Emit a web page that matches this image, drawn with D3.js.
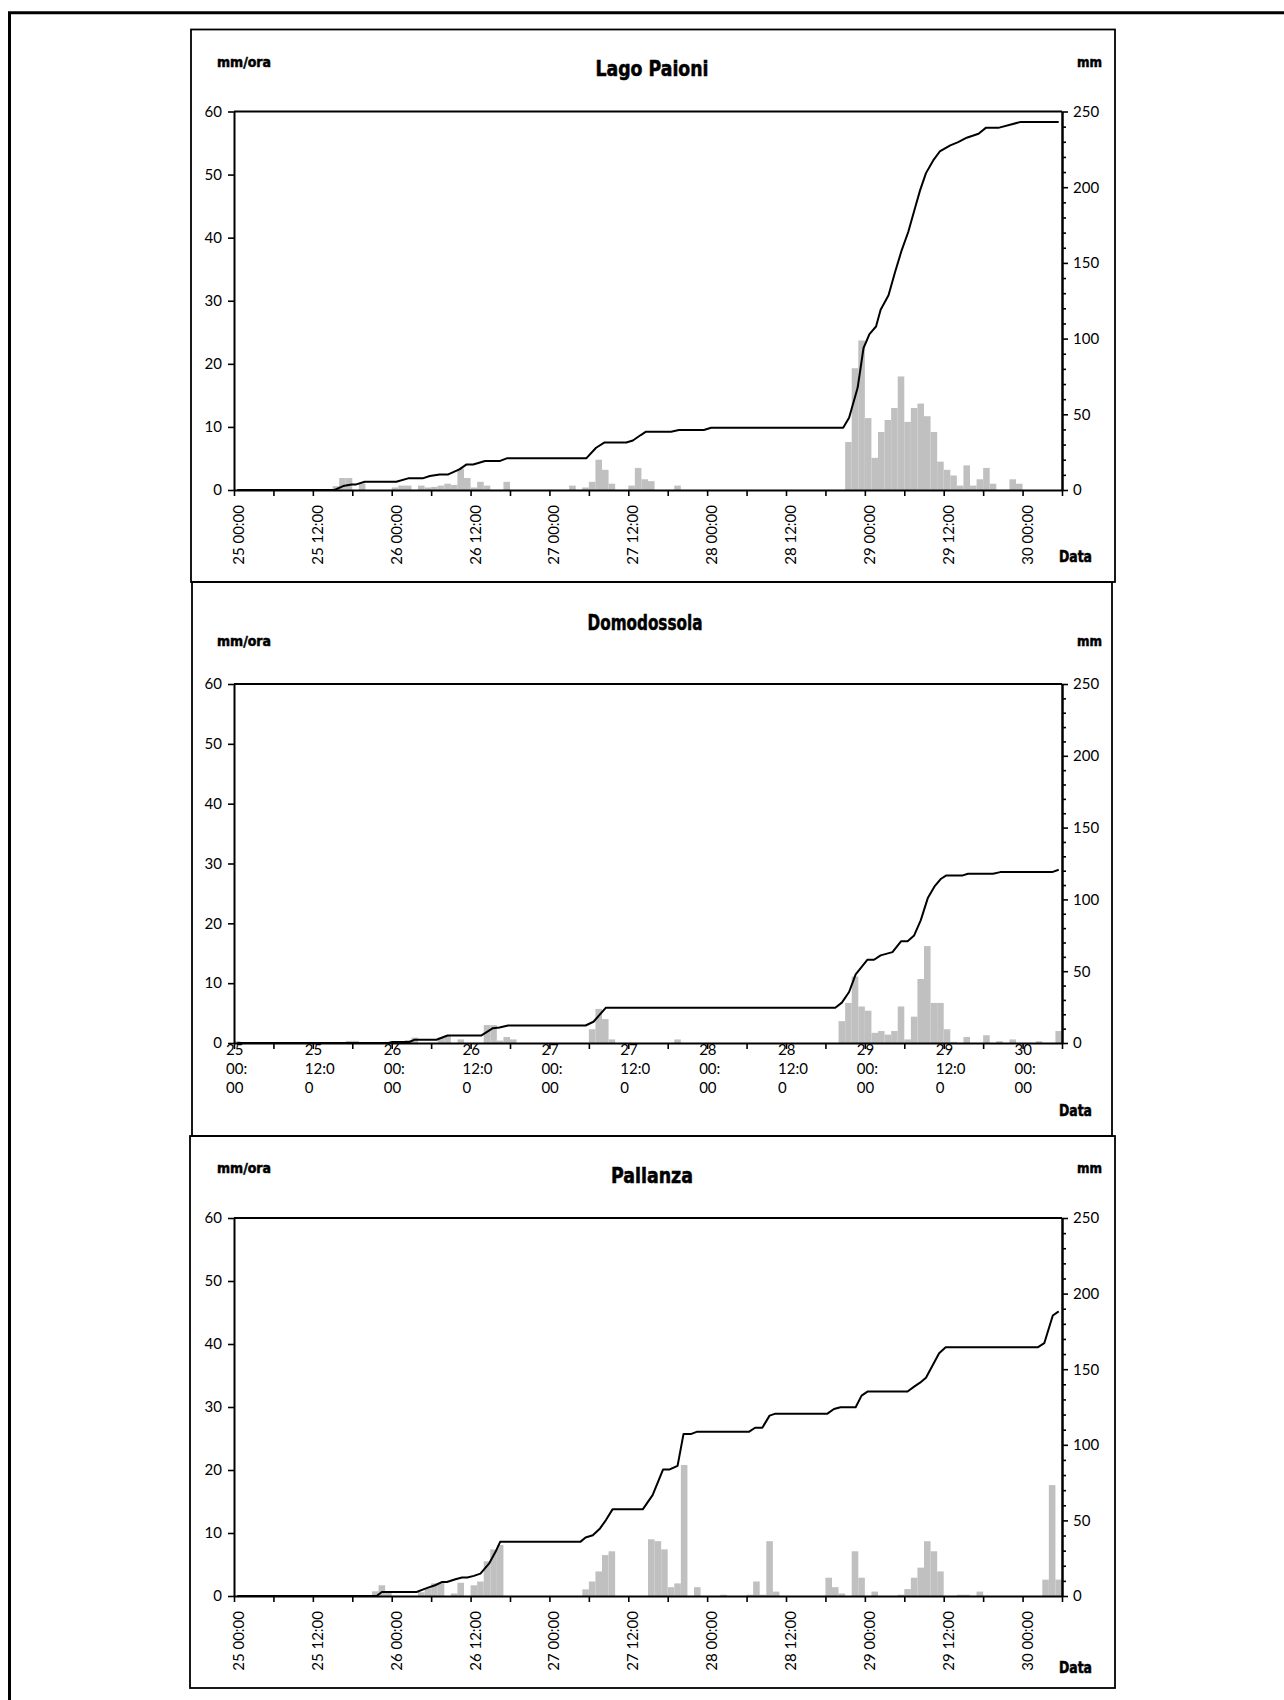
<!DOCTYPE html>
<html><head><meta charset="utf-8">
<script src="https://cdn.jsdelivr.net/npm/d3@7"></script>
<style>body{margin:0;background:#fff} svg{display:block}</style>
</head><body>
<svg id="c" width="1284" height="1700"></svg>
<script>
// ---------- DATA (hour index from 25 00:00, value) ----------
const paioniBars = [[15,0.6],[16,1.9],[17,1.9],[19,1.0],[24,0.4],[25,0.7],[26,0.7],[28,0.7],[29,0.4],[30,0.5],[31,0.7],[32,1.0],[33,0.8],[34,3.4],[35,1.9],[36,0.4],[37,1.3],[38,0.7],[41,1.3],[51,0.7],[53,0.4],[54,1.3],[55,4.8],[56,3.2],[57,1.0],[60,0.7],[61,3.5],[62,1.7],[63,1.4],[67,0.7],[93,7.6],[94,19.3],[95,23.7],[96,11.4],[97,5.1],[98,9.2],[99,11.1],[100,13.0],[101,18.0],[102,10.8],[103,13.0],[104,13.7],[105,11.7],[106,9.2],[107,4.5],[108,3.2],[109,2.3],[110,0.7],[111,3.9],[112,0.7],[113,1.7],[114,3.5],[115,1.0],[118,1.7],[119,1.0]];
const paioniCum = [[0.5,0],[15.3,0],[16.6,2.6],[17.9,3.7],[18.6,3.7],[19.9,5.5],[24.7,5.5],[26.5,7.7],[28.7,7.7],[29.8,9.2],[31.3,10.3],[32.6,10.3],[34.3,13.6],[35.4,16.9],[36.4,16.9],[38.2,19.1],[40.4,19.1],[41.5,20.9],[53.6,20.9],[55.1,27.9],[56.4,31.4],[59.7,31.4],[60.7,32.7],[61.9,36.3],[62.7,38.5],[66.5,38.5],[67.7,39.6],[71.5,39.6],[72.6,41.1],[92.7,41.1],[93.6,47.7],[94.9,67.5],[95.8,93.8],[96.7,103],[97.7,108],[98.4,119],[99.6,128.6],[100.6,144],[101.6,158.3],[102.6,170.4],[103.6,185.8],[104.4,197.9],[105.3,209.3],[106.4,217.7],[107.4,223.6],[109,227.6],[110.2,229.8],[111.5,232.7],[113.3,235.3],[114.4,239.2],[116.3,239.2],[119.6,243],[125.5,243]];

const domoBars = [[0,0.3],[17,0.35],[18,0.35],[23,0.2],[26,0.5],[27,0.9],[31,0.9],[32,1.25],[34,0.6],[38,3.0],[39,3.0],[40,0.4],[41,1.0],[42,0.6],[54,2.3],[55,5.7],[56,4.0],[57,0.6],[67,0.6],[92,3.65],[93,6.7],[94,11.1],[95,6.1],[96,5.4],[97,1.7],[98,2.0],[99,1.4],[100,2.0],[101,6.1],[102,0.6],[103,4.4],[104,10.7],[105,16.2],[106,6.7],[107,6.7],[108,2.3],[109,0.2],[111,1.0],[114,1.3],[116,0.3],[118,0.6],[122,0.3],[125,2.0]];
const domoCum = [[0.5,0],[23.5,0],[24.1,0.7],[26.7,0.7],[27.5,2.3],[30.8,2.3],[32.5,5.2],[37.6,5.2],[39.4,10.3],[40.4,10.8],[41.7,12.2],[53.5,12.2],[54.7,14.8],[56.6,24.6],[91.5,24.6],[92.5,28.1],[93.6,35.5],[94.6,47.8],[96.4,58],[97.4,58],[98.4,61],[100.2,63.3],[101.5,70.8],[102.5,70.8],[103.5,74.9],[104.5,85.4],[105.6,101.2],[106.6,109],[107.6,114.4],[108.4,116.7],[110.9,116.7],[111.7,117.9],[115.5,117.9],[116.6,119],[124.5,119],[125.5,120.6]];

const pallanzaBars = [[21,0.75],[22,1.7],[23,0.5],[28,0.6],[29,1.2],[30,2.0],[31,2.1],[33,0.4],[34,2.1],[36,1.7],[37,2.3],[38,5.5],[39,7.4],[40,8.1],[53,1.05],[54,2.3],[55,3.9],[56,6.5],[57,7.1],[63,9.0],[64,8.7],[65,7.4],[66,1.4],[67,2.0],[68,20.8],[70,1.4],[74,0.2],[78,0.2],[79,2.3],[80,0.2],[81,8.7],[82,0.7],[90,2.9],[91,1.4],[92,0.4],[94,7.1],[95,2.9],[97,0.7],[101,0.2],[102,1.1],[103,2.9],[104,4.5],[105,8.7],[106,7.1],[107,3.9],[110,0.2],[111,0.2],[113,0.7],[123,2.6],[124,17.6],[125,2.6]];
const pallanzaCum = [[0.5,0],[21.7,0],[22.5,2.65],[27.8,2.65],[29.1,4.9],[30.6,7.1],[31.7,9.3],[32.4,9.3],[33.7,11.1],[34.7,12.2],[35.5,12.2],[36.5,13.3],[37.5,14.8],[38.8,21.4],[39.8,29.2],[40.5,35.8],[52.7,35.8],[53.5,38.7],[54.6,40.2],[55.7,44.7],[56.6,50.2],[57.6,57.3],[62.2,57.3],[63.7,66.7],[65.3,83.7],[66.3,83.7],[67.5,86.1],[68.4,107.1],[69.5,107.1],[70.5,108.7],[78.4,108.7],[79.3,111.3],[80.4,111.3],[81.5,119.3],[82.4,120.6],[90.3,120.6],[91.3,123.7],[92.3,124.8],[94.6,124.8],[95.5,132.5],[96.4,135.2],[102.5,135.2],[103.5,138.5],[104.4,141.1],[105.3,144.4],[106.3,152.4],[107.3,160.6],[108.3,164.5],[122.3,164.5],[123.3,167.2],[124.6,185.5],[125.5,188.2]];

const timeLabels = ["25 00:00","25 12:00","26 00:00","26 12:00","27 00:00","27 12:00","28 00:00","28 12:00","29 00:00","29 12:00","30 00:00"];
const wrappedLabels = [["25","00:","00"],["25","12:0","0"],["26","00:","00"],["26","12:0","0"],["27","00:","00"],["27","12:0","0"],["28","00:","00"],["28","12:0","0"],["29","00:","00"],["29","12:0","0"],["30","00:","00"]];
const leftTicks = [0,10,20,30,40,50,60];
const rightTicks = [0,50,100,150,200,250];
const rightMinor = [10,20,30,40,60,70,80,90,110,120,130,140,160,170,180,190,210,220,230,240];
const xTicks = [0,6,12,18,24,30,36,42,48,54,60,66,72,78,84,90,96,102,108,114,120,126];
const labelHours = [0,12,24,36,48,60,72,84,96,108,120];
const stations = ["Lago Paioni","Domodossola","Pallanza"];

// ---------- LAYOUT ----------
const TICKFONT = "Lato, 'DejaVu Sans', sans-serif";
const HEAVY = "'Liberation Sans Narrow', 'DejaVu Sans Condensed', sans-serif";
const panels = [
  {title:stations[0], bars:paioniBars, cum:paioniCum, fx0:191, fy0:29.5, fx1:1115, fy1:582,
   y0:111.5, y1:490, titleY:69, titleX:652, titleW:113, unitY:62, dataY:557, wrapped:false},
  {title:stations[1], bars:domoBars, cum:domoCum, fx0:192, fy0:582, fx1:1112, fy1:1136,
   y0:684, y1:1043, titleY:623, titleX:645, titleW:115, unitY:641, dataY:1111, wrapped:true},
  {title:stations[2], bars:pallanzaBars, cum:pallanzaCum, fx0:190, fy0:1136, fx1:1115, fy1:1688,
   y0:1218, y1:1596, titleY:1176, titleX:652, titleW:82, unitY:1168, dataY:1668, wrapped:false}
];
const X0 = 234, X1 = 1062;

const svg = d3.select("#c");
svg.append("rect").attr("width",1284).attr("height",1700).attr("fill","#fff");
// outer border
svg.append("path").attr("d","M9.5,1700 L9.5,12.7 L1284,12.7")
  .attr("fill","none").attr("stroke","#000").attr("stroke-width",3);

function styleAxis(g){
  g.select(".domain").attr("stroke","#000").attr("stroke-width",2);
  g.selectAll(".tick line").attr("stroke","#000").attr("stroke-width",1.6);
  g.selectAll("text").attr("font-family",TICKFONT).attr("font-size",15).attr("fill","#000");
}
function heavy(sel, size, len){
  sel.attr("font-family",HEAVY).attr("font-weight","bold").attr("font-size",size)
    .attr("stroke","#000").attr("stroke-width",0.5).attr("fill","#000")
    .attr("textLength",len).attr("lengthAdjust","spacingAndGlyphs")
    .attr("dominant-baseline","central");
}

panels.forEach(p => {
  const g = svg.append("g");
  const x = d3.scaleLinear().domain([0,126]).range([X0,X1]);
  const yL = d3.scaleLinear().domain([0,60]).range([p.y1,p.y0]);
  const yR = d3.scaleLinear().domain([0,250]).range([p.y1,p.y0]);

  g.append("rect").attr("x",p.fx0).attr("y",p.fy0).attr("width",p.fx1-p.fx0).attr("height",p.fy1-p.fy0)
    .attr("fill","none").attr("stroke","#000").attr("stroke-width",1.8);

  // bars
  g.append("g").selectAll("rect").data(p.bars).join("rect")
    .attr("x",d=>x(d[0])).attr("width",d=>x(d[0]+1)-x(d[0]))
    .attr("y",d=>yL(d[1])).attr("height",d=>yL(0)-yL(d[1]))
    .attr("fill","#c0c0c0");

  // x labels
  if (p.wrapped) {
    const t = g.append("g").selectAll("text").data(labelHours).join("text")
      .attr("font-family",TICKFONT).attr("font-size",15).attr("fill","#000")
      .attr("dominant-baseline","central");
    t.each(function(h,i){
      const el = d3.select(this);
      wrappedLabels[i].forEach((ln,k)=>{
        el.append("tspan").attr("x",x(h)-8).attr("y",p.y1+6+k*19).text(ln);
      });
    });
  } else {
    g.append("g").selectAll("text").data(labelHours).join("text")
      .attr("transform",(h)=>`translate(${x(h)+4},${p.y1+15}) rotate(-90)`)
      .attr("text-anchor","end").attr("dominant-baseline","central")
      .attr("font-family",TICKFONT).attr("font-size",15).attr("fill","#000")
      .text((h,i)=>timeLabels[i]);
  }

  // cumulative line
  g.append("path").datum(p.cum)
    .attr("d", d3.line().x(d=>x(d[0])).y(d=>yR(d[1])))
    .attr("fill","none").attr("stroke","#000").attr("stroke-width",2).attr("stroke-linejoin","round");

  // top border of plot area
  g.append("line").attr("x1",X0).attr("x2",X1).attr("y1",p.y0).attr("y2",p.y0)
    .attr("stroke","#000").attr("stroke-width",2);

  // axes
  const ax = g.append("g").attr("transform",`translate(0,${p.y1})`)
    .call(d3.axisBottom(x).tickValues(xTicks).tickSize(6).tickSizeOuter(0).tickFormat(""));
  styleAxis(ax);
  const al = g.append("g").attr("transform",`translate(${X0},0)`)
    .call(d3.axisLeft(yL).tickValues(leftTicks).tickSize(6).tickSizeOuter(0).tickPadding(6));
  styleAxis(al);
  const arm = g.append("g").attr("transform",`translate(${X1},0)`)
    .call(d3.axisRight(yR).tickValues(rightMinor).tickSize(4).tickSizeOuter(0).tickFormat(""));
  styleAxis(arm);
  const ar = g.append("g").attr("transform",`translate(${X1},0)`)
    .call(d3.axisRight(yR).tickValues(rightTicks).tickSize(6).tickSizeOuter(0).tickPadding(5));
  styleAxis(ar);

  // texts
  heavy(g.append("text").attr("x",p.titleX).attr("y",p.titleY).attr("text-anchor","middle").text(p.title), 21, p.titleW);
  heavy(g.append("text").attr("x",217).attr("y",p.unitY).text("mm/ora"), 14, 54);
  heavy(g.append("text").attr("x",1077).attr("y",p.unitY).text("mm"), 14, 25);
  heavy(g.append("text").attr("x",1059).attr("y",p.dataY).text("Data"), 15, 33);
});
</script>
</body></html>
